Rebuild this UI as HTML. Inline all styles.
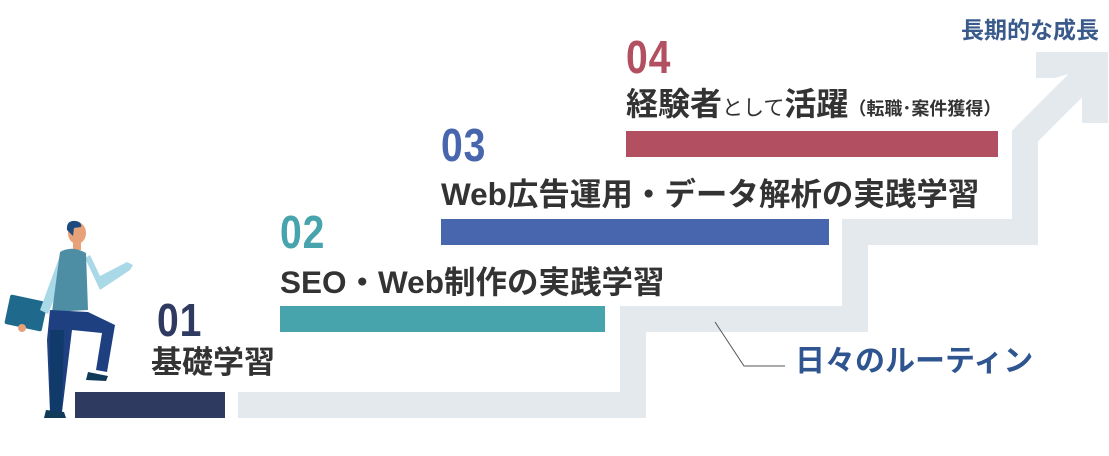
<!DOCTYPE html>
<html><head><meta charset="utf-8"><style>
html,body{margin:0;padding:0;background:#fff;}
body{width:1109px;height:456px;position:relative;overflow:hidden;font-family:"Liberation Sans","Noto Sans CJK JP",sans-serif;}
.t{position:absolute;white-space:nowrap;font-weight:bold;line-height:1;}
.num{font-family:"Liberation Sans Narrow","Liberation Sans",sans-serif;font-size:46px;transform:scaleX(0.85);transform-origin:left;letter-spacing:1px;}
.lab{color:#333;font-size:30px;}
</style></head><body>
<svg width="1109" height="456" style="position:absolute;left:0;top:0">
<path d="M238 405 H633 V319 H855 V232 H1025 V136 L1092 69" fill="none" stroke="#e4e9ee" stroke-width="26"/>
<polygon points="1036,52 1108,52 1108,123 1082,123 1082,70 1055,78 1036,78" fill="#e4e9ee"/>
<rect x="75" y="392" width="150" height="26" fill="#2f3a60"/>
<rect x="280" y="306" width="325" height="26" fill="#47a3ac"/>
<rect x="441" y="219" width="388" height="26" fill="#4766ae"/>
<rect x="626" y="131" width="372" height="26" fill="#b24f60"/>
<polyline points="715,322 744,366 785,366" fill="none" stroke="#555" stroke-width="1"/>
<g>
<rect x="7" y="298" width="38" height="30" rx="2" fill="#1f6a8c" transform="rotate(12 26 313)"/>
<path d="M62 250 L40 310 L48 314 L70 260Z" fill="#a9d8e6"/>
<path d="M85 258 L100 290 L130 270 L133 265 L127 262 L100 276 L90 255Z" fill="#a9d8e6"/>
<ellipse cx="77" cy="233" rx="9" ry="11" fill="#e8a27a"/>
<path d="M67 230 Q66 220 76 221 Q82 222 81 227 L74 228 L73 236 Z" fill="#1f4a80"/>
<rect x="73" y="240" width="8" height="10" fill="#e8a27a"/>
<path d="M60 252 Q72 245 86 253 L88 310 L52 312 Z" fill="#4e8ea4"/>
<path d="M50 310 L88 312 L115 325 L107 372 L96 370 L102 333 L72 330 L62 412 L50 412 L47 340 Z" fill="#1f4080"/>
<path d="M50 330 L64 330 L62 412 L50 412 Z" fill="#0f3a6a"/>
<path d="M88 372 L108 376 L106 381 L86 380Z" fill="#0f3a5a"/>
<path d="M46 410 L64 412 L66 418 L44 418Z" fill="#0f3a5a"/>
<circle cx="22" cy="328" r="4" fill="#e8a27a"/>
</g>
</svg>
<div class="t num" style="left:157px;top:297px;color:#2f3a60">01</div>
<div class="t lab" style="left:151px;top:347px;font-size:31px">基礎学習</div>
<div class="t num" style="left:280px;top:209px;color:#47a3ac">02</div>
<div class="t lab" style="left:280px;top:267px;font-size:31.5px">SEO・Web制作の実践学習</div>
<div class="t num" style="left:441px;top:122px;color:#4766ae">03</div>
<div class="t lab" style="left:441px;top:179px;font-size:31.5px">Web広告運用・データ解析の実践学習</div>
<div class="t num" style="left:626px;top:34px;color:#b24f60">04</div>
<div class="t lab" style="left:626px;top:88px;font-size:32px">経験者<span style="font-size:21px;font-weight:normal">として</span>活躍<span style="font-size:18px">（転職･案件獲得）</span></div>
<div class="t" style="left:961px;top:19px;font-size:23px;color:#3a5a8c">長期的な成長</div>
<div class="t" style="left:795px;top:347px;font-size:30px;color:#2f5590">日々のルーティン</div>
</body></html>
